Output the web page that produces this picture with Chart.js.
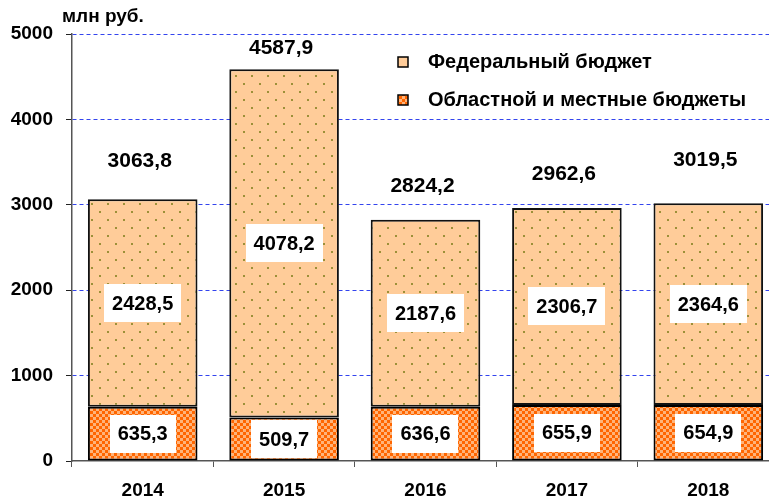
<!DOCTYPE html>
<html>
<head>
<meta charset="utf-8">
<script src="https://cdn.jsdelivr.net/npm/chart.js@4/dist/chart.umd.min.js"></script>
<style>
  html, body { margin: 0; padding: 0; background: #fff; overflow: hidden; }
  #wrap { position: absolute; left: 0; top: 0; width: 781px; height: 497px; }
</style>
</head>
<body>
<div id="wrap"><canvas id="budgetChart" width="781" height="497"></canvas></div>
<script>
// данные
const years = ["2014", "2015", "2016", "2017", "2018"];
const regional = [635.3, 509.7, 636.6, 655.9, 654.9];
const federal = [2428.5, 4078.2, 2187.6, 2306.7, 2364.6];
const yTicks = [0, 1000, 2000, 3000, 4000, 5000];
const seriesNames = ["Федеральный бюджет", "Областной и местные бюджеты"];
const unitLabel = "млн руб.";

const totals = years.map((_, i) => Math.round((regional[i] + federal[i]) * 10) / 10);
const fmt = v => v.toFixed(1).replace(".", ",");
const FONT = "'Liberation Sans', Arial, sans-serif";

// штриховки
function dotPattern() {
    const c = document.createElement("canvas");
    c.width = 16; c.height = 16;
    const g = c.getContext("2d");
    g.fillStyle = "#ffcc99";
    g.fillRect(0, 0, 16, 16);
    g.fillStyle = "#9c9038";
    g.fillRect(3, 3, 2, 2);
    g.fillRect(11, 11, 2, 2);
    return g.createPattern(c, "repeat");
}
function checkPattern() {
    const c = document.createElement("canvas");
    c.width = 6; c.height = 6;
    const g = c.getContext("2d");
    g.fillStyle = "#ff6600";
    g.fillRect(0, 0, 6, 6);
    g.fillStyle = "#ffb47a";
    g.fillRect(0, 0, 3, 3);
    g.fillRect(3, 3, 3, 3);
    return g.createPattern(c, "repeat");
}
const fedFill = dotPattern();
const regFill = checkPattern();

const labelsPlugin = {
    id: "valueLabels",
    afterDatasetsDraw(chart, args, opts) {
        const ctx = chart.ctx;
        ctx.save();
        ctx.textAlign = "center";
        ctx.textBaseline = "middle";
        // подписи внутри сегментов
        ctx.font = "bold 20px " + FONT;
        chart.data.datasets.forEach((ds, di) => {
            chart.getDatasetMeta(di).data.forEach((bar, i) => {
                const txt = fmt(ds.data[i]);
                const cy = (bar.y + bar.base) / 2;
                const w = ctx.measureText(txt).width + 16;
                const h = 38;
                ctx.fillStyle = "#fff";
                ctx.fillRect(Math.round(bar.x - w / 2), Math.round(cy - h / 2), Math.round(w), h);
                ctx.fillStyle = "#000";
                ctx.fillText(txt, bar.x, cy + 1);
            });
        });
        // итоги
        ctx.font = "bold 21px " + FONT;
        const top = chart.getDatasetMeta(1).data;
        top.forEach((bar, i) => {
            ctx.fillStyle = "#000";
            ctx.fillText(fmt(totals[i]), bar.x - 3, bar.y - opts.offsets[i]);
        });
        ctx.restore();
    },
    afterDraw(chart) {
        const ctx = chart.ctx;
        ctx.save();
        ctx.fillStyle = "#000";
        ctx.textBaseline = "middle";
        ctx.textAlign = "left";
        ctx.font = "bold 19px " + FONT;
        ctx.fillText(unitLabel, 62, 17);
        // легенда
        const fills = [fedFill, regFill];
        ctx.font = "bold 20px " + FONT;
        seriesNames.forEach((name, i) => {
            const y = 62 + i * 38;
            ctx.fillStyle = fills[i];
            ctx.fillRect(398, y - 5, 10, 10);
            ctx.strokeStyle = "#000";
            ctx.lineWidth = 1.5;
            ctx.strokeRect(398, y - 5, 10, 10);
            ctx.fillStyle = "#000";
            ctx.fillText(name, 428, y);
        });
        ctx.restore();
    }
};

new Chart(document.getElementById("budgetChart"), {
    type: "bar",
    data: {
        labels: years,
        datasets: [
            {
                label: seriesNames[1],
                data: regional,
                backgroundColor: regFill,
                borderColor: "#000",
                borderWidth: 2,
                borderSkipped: false
            },
            {
                label: seriesNames[0],
                data: federal,
                backgroundColor: fedFill,
                borderColor: "#111",
                borderWidth: 2,
                borderSkipped: false
            }
        ]
    },
    options: {
        responsive: false,
        animation: false,
        devicePixelRatio: 1,
        layout: { padding: { top: 34, right: 2, left: 0, bottom: 0 } },
        datasets: { bar: { barPercentage: 0.775, categoryPercentage: 1 } },
        plugins: {
            legend: { display: false },
            tooltip: { enabled: false },
            valueLabels: { offsets: [38, 21, 34, 34, 43] }
        },
        scales: {
            x: {
                stacked: true,
                grid: {
                    drawOnChartArea: false,
                    offset: true,
                    tickLength: 6,
                    tickColor: "#555"
                },
                border: { color: "#555", width: 1.5 },
                ticks: {
                    color: "#000",
                    font: { family: FONT, size: 19, weight: "bold" },
                    padding: 12,
                    maxRotation: 0
                },
                afterFit(scale) { scale.height = 36; }
            },
            y: {
                stacked: true,
                min: yTicks[0],
                max: yTicks[yTicks.length - 1],
                afterBuildTicks(scale) { scale.ticks = yTicks.map(v => ({ value: v })); },
                grid: {
                    color: ctx => ctx.tick && ctx.tick.value === 0 ? "rgba(0,0,0,0)" : "#3344ee",
                    lineWidth: 1,
                    tickLength: 6,
                    tickColor: "#222"
                },
                border: { color: "#555", width: 1.5, dash: [4, 3] },
                ticks: {
                    color: "#000",
                    font: { family: FONT, size: 19, weight: "bold" },
                    padding: 13,
                    callback: v => String(v)
                },
                afterFit(scale) { scale.width = 72; }
            }
        }
    },
    plugins: [labelsPlugin]
});
</script>
</body>
</html>
